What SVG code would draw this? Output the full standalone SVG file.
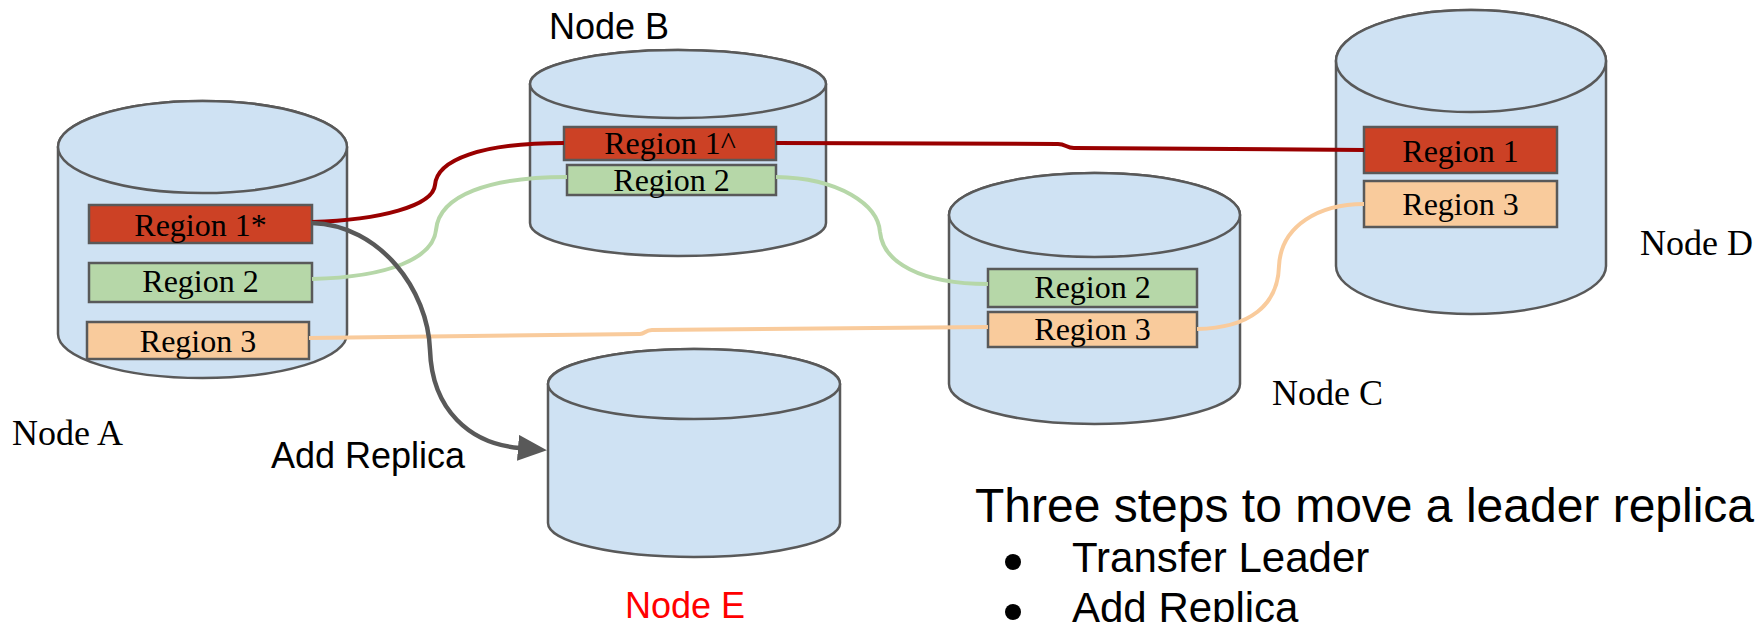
<svg xmlns="http://www.w3.org/2000/svg" width="1760" height="622" viewBox="0 0 1760 622">
  <style>
    .cyl { fill: #cfe2f3; stroke: #595959; stroke-width: 2.5; }
    .reg { stroke: #595959; stroke-width: 2.5; }
    .r1 { fill: #cc4125; }
    .r2 { fill: #b6d7a8; }
    .r3 { fill: #f9cb9c; }
    .rt { font-family: "Liberation Serif", "Times New Roman", serif; font-size: 32px; fill: #000; text-anchor: middle; }
    .serif-label { font-family: "Liberation Serif", "Times New Roman", serif; font-size: 36px; fill: #000; }
    .sans-label { font-family: "Liberation Sans", Arial, sans-serif; font-size: 36px; fill: #000; }
    .link { fill: none; stroke-width: 4; stroke-linecap: butt; }
    .l-red { stroke: #990000; }
    .l-green { stroke: #b6d7a8; }
    .l-orange { stroke: #f9cb9c; }
    .l-grey { stroke: #595959; stroke-width: 4.5; }
    .steps { font-family: "Liberation Sans", Arial, sans-serif; fill: #000; }
  </style>
  <defs>
    <marker id="arrowhead" markerUnits="userSpaceOnUse" markerWidth="32" markerHeight="28" refX="2" refY="13" orient="auto">
      <path d="M0,0 L29,13 L0,26 Z" fill="#595959"/>
    </marker>
  </defs>

  <rect width="1760" height="622" fill="#ffffff"/>

  <!-- Node A -->
  <g id="node-a">
    <path class="cyl" d="M58,147 V334 A144.5,44 0 0 0 347,334 V147 A144.5,46 0 0 0 58,147 Z"/>
    <ellipse class="cyl" cx="202.5" cy="147" rx="144.5" ry="46"/>
    <rect class="reg r1" x="89" y="205" width="223" height="38"/>
    <text class="rt" x="200.5" y="236">Region 1*</text>
    <rect class="reg r2" x="89" y="263" width="223" height="39"/>
    <text class="rt" x="200.5" y="292">Region 2</text>
    <rect class="reg r3" x="87" y="322" width="222" height="37"/>
    <text class="rt" x="198" y="352">Region 3</text>
    <text class="serif-label" x="12" y="445">Node A</text>
  </g>

  <!-- Node B -->
  <g id="node-b">
    <path class="cyl" d="M530,84 V223 A148,33 0 0 0 826,223 V84 A148,34 0 0 0 530,84 Z"/>
    <ellipse class="cyl" cx="678" cy="84" rx="148" ry="34"/>
    <rect class="reg r1" x="564" y="127" width="212" height="33"/>
    <text class="rt" x="670" y="154">Region 1^</text>
    <rect class="reg r2" x="567" y="165" width="209" height="30"/>
    <text class="rt" x="671.5" y="191">Region 2</text>
    <text class="sans-label" x="549" y="39">Node B</text>
  </g>

  <!-- Node C -->
  <g id="node-c">
    <path class="cyl" d="M949,215 V384 A145.5,40 0 0 0 1240,384 V215 A145.5,42 0 0 0 949,215 Z"/>
    <ellipse class="cyl" cx="1094.5" cy="215" rx="145.5" ry="42"/>
    <rect class="reg r2" x="988" y="269" width="209" height="38"/>
    <text class="rt" x="1092.5" y="298">Region 2</text>
    <rect class="reg r3" x="988" y="312" width="209" height="35"/>
    <text class="rt" x="1092.5" y="340">Region 3</text>
    <text class="serif-label" x="1272" y="405">Node C</text>
  </g>

  <!-- Node D -->
  <g id="node-d">
    <path class="cyl" d="M1336,61 V266 A135,48 0 0 0 1606,266 V61 A135,51 0 0 0 1336,61 Z"/>
    <ellipse class="cyl" cx="1471" cy="61" rx="135" ry="51"/>
    <rect class="reg r1" x="1364" y="127" width="193" height="46"/>
    <text class="rt" x="1460.5" y="162">Region 1</text>
    <rect class="reg r3" x="1364" y="181" width="193" height="46"/>
    <text class="rt" x="1460.5" y="215">Region 3</text>
    <text class="serif-label" x="1640" y="255">Node D</text>
  </g>

  <!-- Node E (new, empty) -->
  <g id="node-e">
    <path class="cyl" d="M548,384 V523 A146,34 0 0 0 840,523 V384 A146,35 0 0 0 548,384 Z"/>
    <ellipse class="cyl" cx="694" cy="384" rx="146" ry="35"/>
    <text class="sans-label" x="625" y="618" fill="#ff0000" style="fill:#ff0000">Node E</text>
  </g>

  <!-- Replication links and the add-replica arrow -->
  <g id="connectors">
    <!-- Region 1: A -> B -> D -->
    <path class="link l-red" d="M312,222 C380,220 433,206 435,185 C437,160 480,143 564,143"/>
    <path class="link l-red" d="M776,143 L1058,144 C1066,144 1066,148 1074,148 L1364,150"/>
    <!-- Region 2: A -> B -> C -->
    <path class="link l-green" d="M312,279 C390,277 433,258 436,230 C439,195 490,177 567,177"/>
    <path class="link l-green" d="M776,177 C840,178 878,205 880,232 C883,262 920,284 988,284"/>
    <!-- Region 3: A -> C -> D -->
    <path class="link l-orange" d="M309,338 L640,334 C645,334 645,330 652,330 L988,327"/>
    <path class="link l-orange" d="M1197,329 C1250,328 1278,305 1279,266 C1281,225 1320,204 1364,204"/>
    <!-- Add Replica -->
    <path class="link l-grey" d="M312,223 C380,225 428,290 430,350 C432,410 470,444 520,448" marker-end="url(#arrowhead)"/>
    <text class="sans-label" x="271" y="468">Add Replica</text>
  </g>

  <!-- Steps list -->
  <g id="steps">
    <text class="steps" x="975" y="522" font-size="48">Three steps to move a leader replica</text>
    <circle cx="1013" cy="562" r="8" fill="#000"/>
    <text class="steps" x="1072" y="572" font-size="42">Transfer Leader</text>
    <circle cx="1013" cy="612" r="8" fill="#000"/>
    <text class="steps" x="1072" y="622" font-size="42">Add Replica</text>
  </g>
</svg>
